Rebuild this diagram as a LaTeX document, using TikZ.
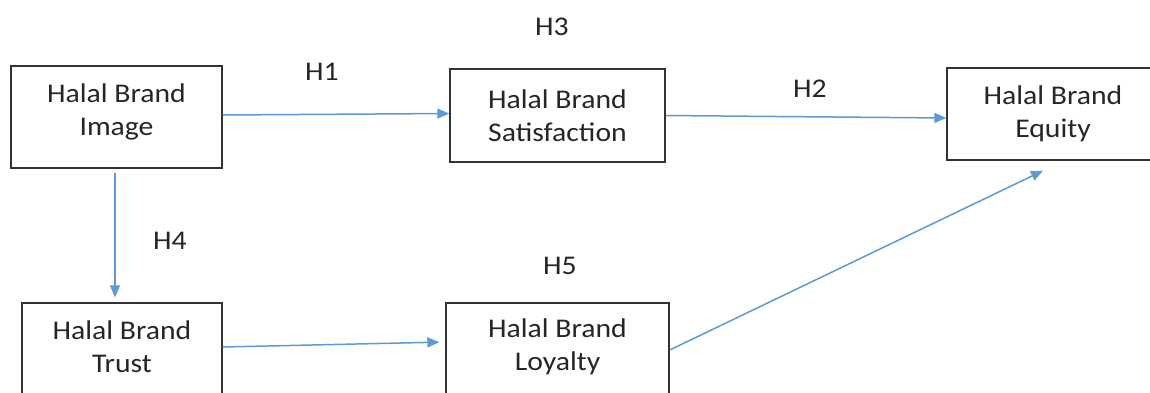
\documentclass[tikz,border=0pt]{standalone}
\usepackage{fontspec}
\setmainfont{Carlito}[FakeStretch=1.1]
\usetikzlibrary{arrows.meta,calc}
\definecolor{arrowblue}{RGB}{91,155,213}
\definecolor{txt}{RGB}{38,38,38}
\begin{document}
\begin{tikzpicture}[x=1pt,y=-1pt,
  box/.style={draw=black!80,line width=1.4pt,rectangle,inner sep=0pt,align=center,text=txt,
    font=\fontsize{27pt}{33pt}\selectfont},
  lbl/.style={text=txt,inner sep=0pt,font=\fontsize{27pt}{33pt}\selectfont},
  conn/.style={draw=arrowblue,line width=1.5pt,-{Triangle[length=12pt,width=10pt]}}]
\useasboundingbox[fill=white] (0,0) rectangle (1150,392);
\node[box,minimum width=211pt,minimum height=102pt,text depth=15.5pt] (img) at (116.5,117) {Halal Brand\\Image};
\node[box,minimum width=215pt,minimum height=93pt] (sat) at (557.5,115.5) {Halal Brand\\Satisfaction};
\node[box,minimum width=212pt,minimum height=92pt] (eq) at (1053,114) {Halal Brand\\Equity};
\node[box,minimum width=200pt,minimum height=100pt,text depth=12pt] (tru) at (122,353) {Halal Brand\\Trust};
\node[box,minimum width=223pt,minimum height=100pt,text depth=17.5pt] (loy) at (557.5,353) {Halal Brand\\Loyalty};
\node[lbl] (h1) at (322,72) {H1};
\node[lbl] (h3) at (552,27) {H3};
\node[lbl] (h2) at (810,89) {H2};
\node[lbl] (h4) at (170,241) {H4};
\node[lbl] (h5) at (560,266) {H5};
\draw[conn] ([yshift=2pt]img.east) -- ([yshift=2pt]sat.west);
\draw[conn] (sat.east) -- ([yshift=-4pt]eq.west);
\draw[conn,shorten <=4pt,shorten >=5pt] ([xshift=-1.5pt]img.south) -- ([xshift=-1.5pt]img.south |- tru.north);
\draw[conn,shorten >=6pt] ([yshift=6pt]tru.east) -- ([yshift=11pt]loy.west);
\draw[conn] ([yshift=3pt]loy.east) -- ([xshift=-10pt,yshift=-10pt]eq.south);
\end{tikzpicture}
\end{document}
